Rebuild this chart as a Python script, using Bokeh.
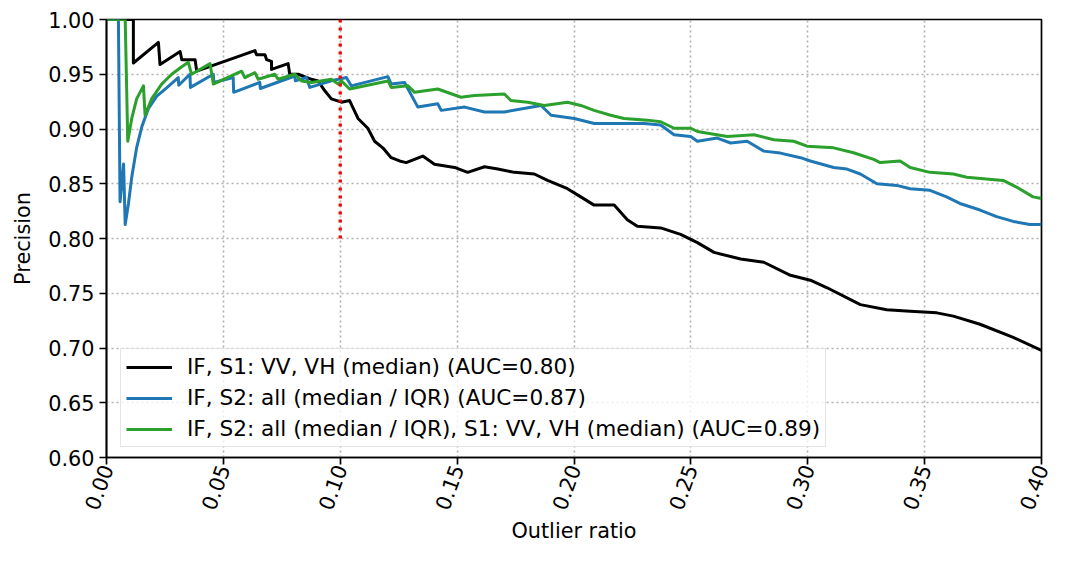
import math
from bokeh.plotting import figure
from bokeh.models import Range1d, FixedTicker, PrintfTickFormatter, Legend, LegendItem
from bokeh.embed import file_html
from bokeh.resources import INLINE

# ---- data ----
x_ticks = [0.00, 0.05, 0.10, 0.15, 0.20, 0.25, 0.30, 0.35, 0.40]
y_ticks = [0.60, 0.65, 0.70, 0.75, 0.80, 0.85, 0.90, 0.95, 1.00]

labels = [
    "IF, S1: VV, VH (median) (AUC=0.80)",
    "IF, S2: all (median / IQR) (AUC=0.87)",
    "IF, S2: all (median / IQR), S1: VV, VH (median) (AUC=0.89)",
]

black_x = [0.0, 0.0115, 0.0115, 0.0222, 0.0229, 0.0315, 0.0322, 0.0379, 0.0386, 0.0635,
           0.0642, 0.0678, 0.0685, 0.0706, 0.0706, 0.0777, 0.0784, 0.0820, 0.0877, 0.0905,
           0.0934, 0.0962, 0.1005, 0.1040, 0.1076, 0.1118, 0.1147, 0.1182, 0.1218, 0.1254,
           0.1282, 0.1353, 0.1403, 0.1489, 0.1545, 0.1617, 0.1674, 0.1745, 0.1830, 0.1887,
           0.1972, 0.2029, 0.2086, 0.2172, 0.2228, 0.2271, 0.2371, 0.2456, 0.2528, 0.2599,
           0.2713, 0.2812, 0.2926, 0.3011, 0.3083, 0.3225, 0.3338, 0.3438, 0.3552, 0.3623,
           0.3737, 0.3879, 0.4000]
black_y = [1.0, 1.0, 0.9603, 0.9791, 0.9588, 0.9708, 0.9633, 0.9633, 0.9528, 0.9716,
           0.9678, 0.9678, 0.9633, 0.9618, 0.9544, 0.9597, 0.9500, 0.9500, 0.9454, 0.9439,
           0.9349, 0.9275, 0.9245, 0.9260, 0.9096, 0.9007, 0.8888, 0.8828, 0.8738, 0.8708,
           0.8693, 0.8753, 0.8678, 0.8649, 0.8604, 0.8655, 0.8634, 0.8604, 0.8589, 0.8530,
           0.8455, 0.8380, 0.8305, 0.8305, 0.8171, 0.8111, 0.8097, 0.8037, 0.7962, 0.7873,
           0.7813, 0.7783, 0.7664, 0.7619, 0.7550, 0.7396, 0.7350, 0.7336, 0.7321, 0.7291,
           0.7217, 0.7097, 0.6978]

blue_x = [0.0, 0.0051, 0.0058, 0.0073, 0.0080, 0.0094, 0.0108, 0.0129, 0.0151, 0.0179,
          0.0215, 0.0251, 0.0307, 0.0309, 0.0357, 0.0359, 0.0457, 0.0459, 0.0542, 0.0544,
          0.0656, 0.0658, 0.0806, 0.0808, 0.0855, 0.0870, 0.0962, 0.1026, 0.1047, 0.1204,
          0.1218, 0.1275, 0.1332, 0.1417, 0.1432, 0.1532, 0.1617, 0.1702, 0.1859, 0.1902,
          0.2001, 0.2087, 0.2300, 0.2371, 0.2428, 0.2499, 0.2528, 0.2613, 0.2670, 0.2741,
          0.2812, 0.2883, 0.2969, 0.3011, 0.3111, 0.3168, 0.3225, 0.3296, 0.3381, 0.3438,
          0.3523, 0.3594, 0.3651, 0.3737, 0.3808, 0.3879, 0.3950, 0.4000]
blue_y = [1.0, 1.0, 0.8335, 0.8680, 0.8127, 0.8320, 0.8560, 0.8830, 0.9020, 0.9186,
          0.9300, 0.9365, 0.9470, 0.9400, 0.9500, 0.9380, 0.9500, 0.9425, 0.9470, 0.9335,
          0.9425, 0.9370, 0.9484, 0.9440, 0.9470, 0.9380, 0.9440, 0.9470, 0.9394, 0.9478,
          0.9410, 0.9425, 0.9200, 0.9230, 0.9170, 0.9200, 0.9156, 0.9156, 0.9215, 0.9126,
          0.9096, 0.9050, 0.9050, 0.9036, 0.8947, 0.8932, 0.8888, 0.8917, 0.8872, 0.8888,
          0.8798, 0.8780, 0.8738, 0.8708, 0.8649, 0.8634, 0.8589, 0.8500, 0.8485, 0.8455,
          0.8440, 0.8380, 0.8320, 0.8260, 0.8200, 0.8156, 0.8127, 0.8127]

green_x = [0.0, 0.0080, 0.0091, 0.0108, 0.0129, 0.0158, 0.0165, 0.0193, 0.0236, 0.0279,
           0.0322, 0.0350, 0.0364, 0.0443, 0.0457, 0.0578, 0.0592, 0.0635, 0.0649, 0.0720,
           0.0734, 0.0806, 0.0834, 0.0877, 0.0962, 0.0991, 0.1005, 0.1040, 0.1204, 0.1218,
           0.1290, 0.1318, 0.1417, 0.1517, 0.1574, 0.1702, 0.1730, 0.1802, 0.1873, 0.1972,
           0.2029, 0.2086, 0.2157, 0.2214, 0.2314, 0.2371, 0.2428, 0.2499, 0.2528, 0.2656,
           0.2770, 0.2855, 0.2940, 0.2997, 0.3111, 0.3196, 0.3282, 0.3310, 0.3395, 0.3438,
           0.3523, 0.3623, 0.3680, 0.3836, 0.3893, 0.3964, 0.4000]
green_y = [1.0, 1.0, 0.8888, 0.9096, 0.9275, 0.9394, 0.9126, 0.9275, 0.9410, 0.9500,
           0.9568, 0.9609, 0.9500, 0.9597, 0.9410, 0.9528, 0.9469, 0.9514, 0.9454, 0.9500,
           0.9454, 0.9500, 0.9439, 0.9425, 0.9454, 0.9410, 0.9439, 0.9365, 0.9439, 0.9380,
           0.9394, 0.9335, 0.9365, 0.9290, 0.9305, 0.9320, 0.9260, 0.9245, 0.9215, 0.9245,
           0.9215, 0.9170, 0.9126, 0.9096, 0.9081, 0.9066, 0.9007, 0.9007, 0.8977, 0.8932,
           0.8947, 0.8902, 0.8888, 0.8843, 0.8828, 0.8783, 0.8723, 0.8693, 0.8708, 0.8649,
           0.8604, 0.8589, 0.8559, 0.8530, 0.8470, 0.8380, 0.8366]

vline_x = [0.10, 0.10]
vline_y = [0.80, 1.00]

colors = ["black", "#1f77b4", "#2ca02c"]

FONT = "DejaVu Sans"
FS = "20.8px"
LFS = "21.6px"

p = figure(width=1054, height=546, output_backend="svg", toolbar_location=None,
           x_range=Range1d(0, 0.4), y_range=Range1d(0.6, 1.0),
           min_border_left=106, min_border_right=13, min_border_top=19, min_border_bottom=84)
p.background_fill_color = "white"
p.border_fill_color = "white"
p.outline_line_color = "black"
p.outline_line_width = 1.7

p.xaxis.ticker = FixedTicker(ticks=x_ticks)
p.yaxis.ticker = FixedTicker(ticks=y_ticks)
p.xaxis.formatter = PrintfTickFormatter(format="%.2f")
p.yaxis.formatter = PrintfTickFormatter(format="%.2f")
p.xaxis.major_label_orientation = 70 * math.pi / 180
p.xaxis.axis_label = "Outlier ratio"
p.yaxis.axis_label = "Precision"

for ax in (p.xaxis[0], p.yaxis[0]):
    ax.axis_line_color = "black"
    ax.axis_line_width = 1.7
    ax.major_tick_line_color = "black"
    ax.major_tick_line_width = 1.7
    ax.major_tick_out = 7
    ax.major_tick_in = 0
    ax.minor_tick_line_color = None
    ax.major_label_text_font = FONT
    ax.major_label_text_font_size = FS
    ax.major_label_text_color = "black"
    ax.axis_label_text_font = FONT
    ax.axis_label_text_font_size = FS
    ax.axis_label_text_font_style = "normal"
    ax.axis_label_text_color = "black"

p.xaxis.major_label_standoff = 1
p.xaxis.axis_label_standoff = 2
p.yaxis.major_label_standoff = 5
p.yaxis.axis_label_standoff = 10

for g in (p.xgrid[0], p.ygrid[0]):
    g.grid_line_color = "#b0b0b0"
    g.grid_line_width = 1.6
    g.grid_line_dash = "2 3"

r1 = p.line(black_x, black_y, line_color=colors[0], line_width=3, line_join="round")
r2 = p.line(blue_x, blue_y, line_color=colors[1], line_width=3, line_join="round")
r3 = p.line(green_x, green_y, line_color=colors[2], line_width=3, line_join="round")

p.line(vline_x, vline_y, line_color="red", line_width=3.3, line_dash="3 5", line_cap="butt")

legend = Legend(items=[LegendItem(label=labels[0], renderers=[r1]),
                       LegendItem(label=labels[1], renderers=[r2]),
                       LegendItem(label=labels[2], renderers=[r3])],
                location=(14, 10), padding=5, spacing=6,
                glyph_width=46, glyph_height=22, label_height=22, label_standoff=15,
                label_text_font=FONT, label_text_font_size=LFS, label_text_color="black",
                border_line_color="#cccccc", border_line_width=1.6,
                background_fill_color="white", background_fill_alpha=0.8)
p.add_layout(legend)

open("out.html", "w").write(file_html(p, INLINE))
